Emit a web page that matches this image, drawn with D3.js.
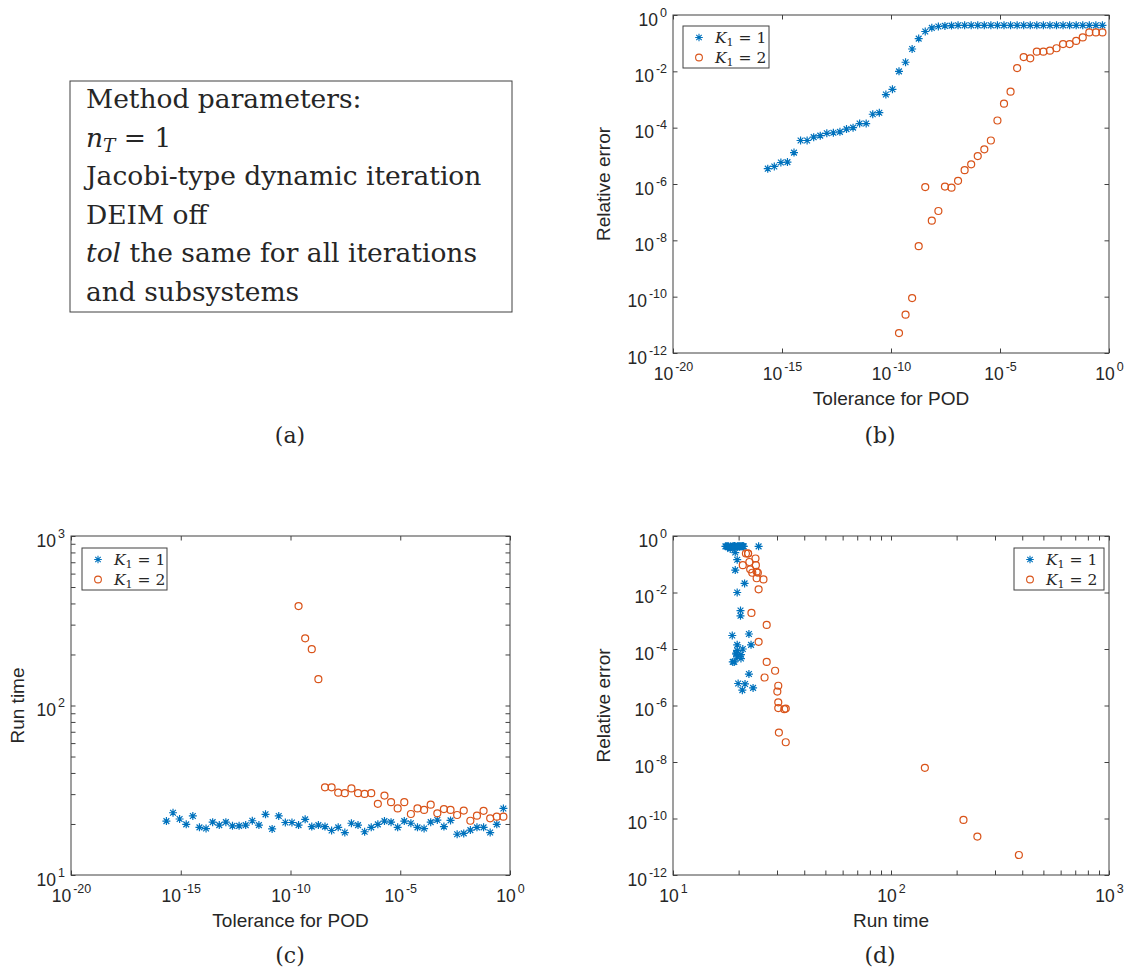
<!DOCTYPE html>
<html>
<head>
<meta charset="utf-8">
<script src="https://cdn.jsdelivr.net/npm/d3@7"></script>
<style>
  body { margin: 0; background: #fff; }
  text { fill: #262626; }
</style>
</head>
<body>
<script>
// POD tolerance is 2^-k, k listed per point
var kStar = [52,51,50,49,48,47,46,45,44,43,42,41,40,39,38,37,36,35,34,33,32,31,30,29,28,27,
             26,25,24,23,22,21,20,19,18,17,16,15,14,13,12,11,10,9,8,7,6,5,4,3,2,1];
var kCirc = [32,31,30,29,28,27,26,25,24,23,22,21,20,19,18,17,16,15,14,13,12,11,10,9,8,7,6,5,4,3,2,1];

// relative error, K1 = 1 and K1 = 2
var errStar = [3.5e-6,4.2e-6,5.8e-6,6.0e-6,1.3e-5,3.5e-5,3.5e-5,4.6e-5,5.2e-5,6.3e-5,6.6e-5,7.1e-5,
               8.9e-5,1.0e-4,1.4e-4,1.4e-4,3.0e-4,3.4e-4,1.5e-3,2.3e-3,1.0e-2,2.1e-2,6.2e-2,0.145,
               0.26,0.35,0.39,0.41,0.42,0.43,0.43,0.43,0.43,0.43,0.43,0.43,0.43,0.43,0.43,0.43,
               0.43,0.43,0.43,0.43,0.43,0.43,0.43,0.43,0.43,0.43,0.43,0.43];
var errCirc = [5.1e-12,2.3e-11,8.9e-11,6.2e-9,7.8e-7,5.0e-8,1.1e-7,8.1e-7,7.4e-7,1.3e-6,3.1e-6,5.0e-6,
               9.8e-6,1.7e-5,3.5e-5,1.8e-4,7.1e-4,1.9e-3,1.3e-2,3.2e-2,2.9e-2,5.0e-2,5.0e-2,5.4e-2,
               6.6e-2,9.3e-2,9.3e-2,0.12,0.16,0.24,0.24,0.24];

// run time, K1 = 1 and K1 = 2
var timeStar = [20.8,23.3,21.4,19.9,22.3,19.1,18.8,20.5,19.7,20.5,19.5,19.5,19.7,20.9,19.7,22.8,
                18.7,22.3,20.4,20.4,19.7,21.3,19.3,19.7,19.3,18.3,19.1,17.8,20.2,19.7,18.0,19.1,
                19.9,20.8,20.5,19.1,20.8,20.2,19.1,18.8,20.5,21.1,19.3,21.0,17.4,17.6,18.4,19.1,
                19.1,17.8,19.9,24.7];
var timeCirc = [386,249,215,143,32.9,32.9,30.6,30.4,32.4,30.4,30.1,30.4,26.3,29.4,26.9,24.7,
                26.9,22.9,24.7,24.2,26.0,23.1,24.5,24.2,22.6,24.0,20.9,22.4,23.9,21.6,22.1,22.1];

var tolTicks = [-20,-15,-10,-5,0];
var errTicks = [-12,-10,-8,-6,-4,-2,0];
var timeTicks = [1,2,3];
var legendNames = ["1","2"];

var blue = "#0072BD", orange = "#D95319", axisCol = "#404040";
var tickFont = "'Liberation Sans', Arial, sans-serif";
var texFont = "'DejaVu Serif', serif";

var svg = d3.select("body").append("svg")
  .attr("width", 1131).attr("height", 973);

var tolStar = kStar.map(function(k) { return Math.pow(2, -k); });
var tolCirc = kCirc.map(function(k) { return Math.pow(2, -k); });

function star(r) {
  var d = r * 0.72;
  return "M" + (-r) + ",0H" + r + "M0," + (-r) + "V" + r +
         "M" + (-d) + "," + (-d) + "L" + d + "," + d +
         "M" + (-d) + "," + d + "L" + d + "," + (-d);
}

function expLabel(text, e) {
  text.text(null);
  text.append("tspan").text("10");
  text.append("tspan").attr("dx", 2).attr("dy", -9).attr("font-size", 12.5).text(e);
}

function minorOf(exps) {
  var out = [];
  for (var i = 0; i < exps.length - 1; i++)
    for (var m = 2; m <= 9; m++) out.push(m * Math.pow(10, exps[i]));
  return out;
}

function panel(o) {
  var x = d3.scaleLog().domain(o.xd).range([o.l, o.r]);
  var y = d3.scaleLog().domain(o.yd).range([o.b, o.t]);
  var g = svg.append("g");
  var tl = 4.5;
  var xv = o.xt.map(function(e) { return Math.pow(10, e); });
  var yv = o.yt.map(function(e) { return Math.pow(10, e); });

  var axes = [
    [d3.axisBottom, x, xv, "translate(0," + o.b + ")", o.xMinor, o.xt],
    [d3.axisTop, x, xv, "translate(0," + o.t + ")", o.xMinor, o.xt],
    [d3.axisLeft, y, yv, "translate(" + o.l + ",0)", o.yMinor, o.yt],
    [d3.axisRight, y, yv, "translate(" + o.r + ",0)", o.yMinor, o.yt]
  ];
  axes.forEach(function(a, i) {
    var ax = g.append("g").attr("class", "ax" + i).attr("transform", a[3])
      .call(a[0](a[1]).tickValues(a[2]).tickSize(-tl).tickSizeOuter(0).tickFormat(""));
    ax.select(".domain").remove();
    ax.selectAll("line").attr("stroke", axisCol);
    if (i === 1 || i === 3) ax.selectAll("text").remove();
    if (a[4]) {
      var mg = g.append("g").attr("transform", a[3])
        .call(a[0](a[1]).tickValues(minorOf(a[5])).tickSize(-tl).tickSizeOuter(0).tickFormat(""));
      mg.select(".domain").remove();
      mg.selectAll("line").attr("stroke", axisCol);
      mg.selectAll("text").remove();
    }
  });

  // tick labels
  g.select(".ax0").selectAll(".tick text")
    .attr("y", 27).attr("dy", 0).attr("font-family", tickFont).attr("font-size", 17.5)
    .attr("fill", "#262626").attr("text-anchor", "middle")
    .each(function(d) { expLabel(d3.select(this), Math.round(Math.log10(d))); });
  g.select(".ax2").selectAll(".tick text")
    .attr("x", -6).attr("y", 10).attr("dy", 0).attr("font-family", tickFont).attr("font-size", 17.5)
    .attr("fill", "#262626").attr("text-anchor", "end")
    .each(function(d) { expLabel(d3.select(this), Math.round(Math.log10(d))); });

  g.append("rect").attr("x", o.l).attr("y", o.t)
    .attr("width", o.r - o.l).attr("height", o.b - o.t)
    .attr("fill", "none").attr("stroke", axisCol).attr("stroke-width", 1);

  // axis titles
  g.append("text").attr("x", (o.l + o.r) / 2).attr("y", o.b + 52)
    .attr("text-anchor", "middle").attr("font-family", tickFont).attr("font-size", 19)
    .text(o.xLabel);
  g.append("text").attr("transform", "translate(" + o.yLabelX + "," + (o.t + o.b) / 2 + ") rotate(-90)")
    .attr("text-anchor", "middle").attr("font-family", tickFont).attr("font-size", 19)
    .text(o.yLabel);

  // data
  g.append("g").selectAll("path").data(o.s1).enter().append("path")
    .attr("transform", function(d) { return "translate(" + x(d[0]) + "," + y(d[1]) + ")"; })
    .attr("d", star(4)).attr("stroke", blue).attr("stroke-width", 1.2).attr("fill", "none");
  g.append("g").selectAll("circle").data(o.s2).enter().append("circle")
    .attr("cx", function(d) { return x(d[0]); }).attr("cy", function(d) { return y(d[1]); })
    .attr("r", 3.5).attr("stroke", orange).attr("stroke-width", 1.2).attr("fill", "none");

  // legend
  var lg = g.append("g").attr("transform", "translate(" + o.leg[0] + "," + o.leg[1] + ")");
  lg.append("rect").attr("width", o.leg[2]).attr("height", 42)
    .attr("fill", "#fff").attr("stroke", axisCol).attr("stroke-width", 1);
  legendNames.forEach(function(n, i) {
    var cy = 11.5 + i * 20;
    if (i === 0) lg.append("path").attr("transform", "translate(16," + cy + ")")
      .attr("d", star(3.8)).attr("stroke", blue).attr("stroke-width", 1.1).attr("fill", "none");
    else lg.append("circle").attr("cx", 16).attr("cy", cy).attr("r", 3.4)
      .attr("stroke", orange).attr("stroke-width", 1.1).attr("fill", "none");
    var t = lg.append("text").attr("x", 32).attr("y", cy + 5)
      .attr("font-family", texFont).attr("font-size", 15.5);
    t.append("tspan").attr("font-style", "italic").text("K");
    t.append("tspan").attr("dy", 3).attr("font-size", 11).text("1");
    t.append("tspan").attr("dy", -3).text(" = " + n);
  });
}

function zip(a, b) { return a.map(function(v, i) { return [v, b[i]]; }); }

// (b) relative error vs tolerance
panel({ l: 673, r: 1109, t: 15, b: 353, xd: [1e-20, 1], yd: [1e-12, 1],
  xt: tolTicks, yt: errTicks, xLabel: "Tolerance for POD", yLabel: "Relative error", yLabelX: 610,
  s1: zip(tolStar, errStar), s2: zip(tolCirc, errCirc), leg: [683, 26, 86] });

// (c) run time vs tolerance
panel({ l: 71, r: 510, t: 536, b: 875, xd: [1e-20, 1], yd: [10, 1000],
  xt: tolTicks, yt: timeTicks, yMinor: true, xLabel: "Tolerance for POD", yLabel: "Run time", yLabelX: 24,
  s1: zip(tolStar, timeStar), s2: zip(tolCirc, timeCirc), leg: [82, 548, 85] });

// (d) relative error vs run time
panel({ l: 673, r: 1109, t: 536, b: 875, xd: [10, 1000], yd: [1e-12, 1],
  xt: timeTicks, yt: errTicks, xMinor: true, xLabel: "Run time", yLabel: "Relative error", yLabelX: 610,
  s1: zip(timeStar, errStar), s2: zip(timeCirc, errCirc), leg: [1014, 548, 90] });

// (a) parameter box
var pa = svg.append("g");
pa.append("rect").attr("x", 70).attr("y", 81).attr("width", 442).attr("height", 231)
  .attr("fill", "#fff").attr("stroke", axisCol).attr("stroke-width", 1);
var lines = [
  [["Method parameters:", false]],
  [["n", true], ["T", true, "sub"], [" = 1", false]],
  [["Jacobi-type dynamic iteration", false]],
  [["DEIM off", false]],
  [["tol", true], [" the same for all iterations", false]],
  [["and subsystems", false]]
];
lines.forEach(function(parts, i) {
  var t = pa.append("text").attr("x", 86).attr("y", 108 + i * 38.5)
    .attr("font-family", texFont).attr("font-size", 26.5);
  var shifted = false;
  parts.forEach(function(p) {
    var s = t.append("tspan").text(p[0]);
    if (p[1]) s.attr("font-style", "italic");
    if (p[2] === "sub") { s.attr("dy", 5).attr("font-size", 18.5); shifted = true; }
    else if (shifted) { s.attr("dy", -5); shifted = false; }
  });
});

// captions
[["(a)", 290, 443], ["(b)", 880, 443], ["(c)", 290, 963], ["(d)", 880, 963]].forEach(function(c) {
  svg.append("text").attr("x", c[1]).attr("y", c[2]).attr("text-anchor", "middle")
    .attr("font-family", texFont).attr("font-size", 22).text(c[0]);
});
</script>
</body>
</html>
